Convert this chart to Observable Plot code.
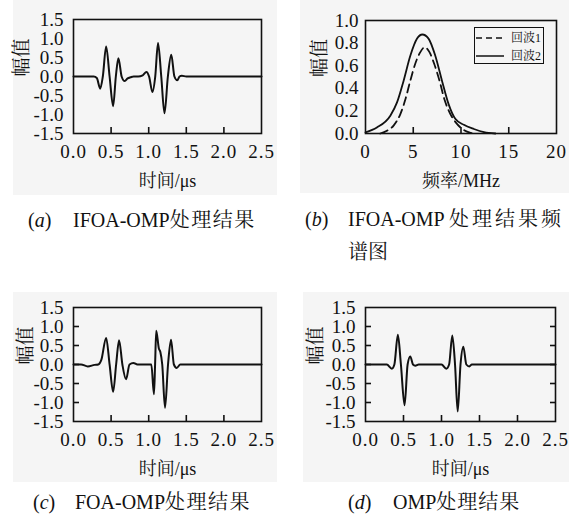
<!DOCTYPE html>
<html><head><meta charset="utf-8">
<script src="https://cdn.jsdelivr.net/npm/d3@7"></script>
<script src="https://cdn.jsdelivr.net/npm/@observablehq/plot@0.6"></script>
<style>
html,body{margin:0;padding:0;background:#fff;}
#root{position:relative;width:569px;height:518px;overflow:hidden;font-family:'Liberation Serif','Noto Serif CJK SC','Noto Sans CJK SC',serif;color:#111;}
#root svg text{font-family:'Liberation Serif','Noto Serif CJK SC','Noto Sans CJK SC',serif !important;}
.bg{position:absolute;background:#f5f5f5;}
.panel{position:absolute;}
.cap{position:absolute;font-size:20px;white-space:nowrap;line-height:20px;}
.legend{position:absolute;border:1.5px solid #111;box-sizing:border-box;font-size:12px;}
.legend .row{position:absolute;left:0;height:14px;line-height:14px;white-space:nowrap;}
</style></head><body><div id="root"></div>
<script>
// ---------- data ----------
const timeTicks = [0, 0.5, 1.0, 1.5, 2.0, 2.5];
const ampTicks = [-1.5, -1.0, -0.5, 0, 0.5, 1.0, 1.5];
const freqTicks = [0, 5, 10, 15, 20];
const specTicks = [0, 0.2, 0.4, 0.6, 0.8, 1.0];

// (a) IFOA-OMP
const ifoaTime = [0, 0.27, 0.31, 0.355, 0.39, 0.434, 0.48, 0.527, 0.563, 0.597, 0.64, 0.681, 0.72, 0.76, 0.80, 0.86, 0.92, 0.97, 1.005, 1.05, 1.087, 1.124, 1.167, 1.21, 1.255, 1.30, 1.342, 1.38, 1.41, 1.44, 1.5, 2.5];
const ifoaAmp  = [0, 0, -0.04, -0.32, 0, 0.79, 0, -0.78, 0, 0.48, 0, -0.12, -0.05, -0.02, 0, 0, 0.03, 0.12, 0, -0.41, 0, 0.88, 0, -0.97, 0, 0.57, 0, -0.1, 0, 0.02, 0, 0];

// (c) FOA-OMP
const foaTime = [0, 0.1, 0.19, 0.28, 0.33, 0.37, 0.434, 0.48, 0.527, 0.567, 0.606, 0.65, 0.699, 0.745, 0.796, 0.85, 1.035, 1.07, 1.085, 1.10, 1.135, 1.155, 1.18, 1.217, 1.257, 1.297, 1.335, 1.372, 1.42, 2.5];
const foaAmp  = [0, 0, -0.05, -0.01, 0, 0.12, 0.70, 0, -0.72, 0, 0.64, 0, -0.39, 0, 0.04, 0, 0, -0.78, 0, 0.89, 0.42, 0.33, 0, -1.14, 0, 0.65, 0, -0.09, 0, 0];

// (d) OMP
const ompTime = [0, 0.28, 0.347, 0.38, 0.426, 0.466, 0.514, 0.554, 0.589, 0.625, 0.655, 0.70, 1.0, 1.063, 1.10, 1.142, 1.178, 1.213, 1.25, 1.287, 1.327, 1.366, 1.40, 2.5];
const ompAmp  = [0, 0, -0.11, 0, 0.78, 0, -1.07, 0, 0.21, 0, -0.03, 0, 0, -0.11, 0, 0.76, 0, -1.24, 0, 0.47, 0, -0.05, 0, 0];

// (b) spectra
const seriesNames = ["回波1", "回波2"];
const echo1Freq = [1.54, 2.24, 2.94, 3.64, 4.17, 4.7, 5.2, 5.74, 6.2, 6.7, 7.2, 7.74, 8.27, 8.9, 9.6, 10.3, 11.0, 11.5];
const echo1Amp  = [0, 0.024, 0.07, 0.17, 0.30, 0.47, 0.615, 0.72, 0.763, 0.72, 0.615, 0.47, 0.30, 0.17, 0.083, 0.03, 0.006, 0];
const echo2Freq = [0, 1.19, 2.6, 3.3, 4.0, 4.7, 5.4, 5.95, 6.6, 7.3, 8.0, 8.7, 9.4, 10.3, 11.35, 12.4, 13.6];
const echo2Amp  = [0.01, 0.053, 0.157, 0.275, 0.47, 0.69, 0.84, 0.876, 0.84, 0.69, 0.47, 0.26, 0.13, 0.077, 0.04, 0.012, 0];

const timeLabel = "时间/μs";
const freqLabel = "频率/MHz";
const ampLabel = "幅值";

// ---------- drawing ----------
const FONT = "'Liberation Serif','Noto Serif CJK SC','Noto Sans CJK SC',serif";
const INK = "#111";
const fmt1 = d => d.toFixed(1);
const fmt0 = d => String(d);
const rows = (xs, ys) => xs.map((x, i) => ({x, y: ys[i]}));
const root = document.getElementById("root");

function addDiv(cls, css, html) {
  const d = document.createElement("div");
  d.className = cls;
  Object.assign(d.style, css);
  if (html != null) d.innerHTML = html;
  root.appendChild(d);
  return d;
}

function panel({left, top, width, height, mL, mR, mT, mB, xDomain, yDomain, xTicks, yTicks, xFmt, yFmt, xLabel, yLabel, yPad, yLabelDx, inLeft, inRight, lines}) {
  const marks = [
    ...lines,
    Plot.frame({stroke: INK, strokeWidth: 1.6}),
    Plot.axisX(xTicks, {tickSize: 0, tickPadding: 11, tickFormat: xFmt, label: null}),
    Plot.axisX(xTicks.slice(1, -1), {tickSize: 6, dy: -6, tickFormat: () => "", label: null, strokeWidth: 1.6}),
    Plot.axisY(yTicks, {tickSize: 0, tickPadding: yPad, tickFormat: yFmt, label: null}),
    Plot.text([xLabel], {text: d => d, frameAnchor: "bottom", dy: 48, lineAnchor: "middle", fontSize: 18}),
    Plot.text([yLabel], {text: d => d, frameAnchor: "left", dx: yLabelDx, rotate: -90, lineAnchor: "middle", fontSize: 19})
  ];
  if (inLeft) marks.push(Plot.axisY(yTicks.slice(1, -1), {anchor: "left", tickSize: 6, dx: 6, tickFormat: () => "", label: null, strokeWidth: 1.6}));
  if (inRight) marks.push(Plot.axisY(yTicks.slice(1, -1), {anchor: "right", tickSize: 6, dx: -6, tickFormat: () => "", label: null, strokeWidth: 1.6}));
  const svg = Plot.plot({
    width, height, marginLeft: mL, marginRight: mR, marginTop: mT, marginBottom: mB,
    style: {background: "transparent", fontFamily: FONT, fontSize: "19px", color: INK, overflow: "visible"},
    x: {domain: xDomain},
    y: {domain: yDomain},
    marks
  });
  svg.setAttribute("font-family", FONT);
  svg.querySelectorAll("text").forEach(t => t.setAttribute("font-family", FONT));
  svg.querySelectorAll('g[aria-label="x-axis tick label"] text').forEach(t => t.setAttribute("letter-spacing", "1"));
  const wrap = addDiv("panel", {left: left + "px", top: top + "px", width: width + "px", height: height + "px"});
  wrap.appendChild(svg);
  return svg;
}

// grey backgrounds
addDiv("bg", {left: "13px", top: "0px", width: "264px", height: "195px"});
addDiv("bg", {left: "300px", top: "0px", width: "269px", height: "193px"});
addDiv("bg", {left: "13px", top: "292px", width: "264px", height: "190px"});
addDiv("bg", {left: "303px", top: "292px", width: "266px", height: "190px"});

const waveLine = (t, a) => Plot.line(rows(t, a), {x: "x", y: "y", stroke: INK, strokeWidth: 2, curve: "monotone-x"});

// (a)
panel({left: 0, top: 0, width: 285, height: 200, mL: 73, mR: 24, mT: 19, mB: 67,
  xDomain: [0, 2.5], yDomain: [-1.5, 1.5], xTicks: timeTicks, yTicks: ampTicks, xFmt: fmt1, yFmt: fmt1,
  xLabel: timeLabel, yLabel: ampLabel, yPad: 10, yLabelDx: -52, inLeft: false, inRight: false,
  lines: [waveLine(ifoaTime, ifoaAmp)]});

// (b)
panel({left: 290, top: 0, width: 279, height: 200, mL: 75, mR: 13, mT: 20, mB: 67,
  xDomain: [0, 20], yDomain: [0, 1], xTicks: freqTicks, yTicks: specTicks, xFmt: fmt0, yFmt: fmt1,
  xLabel: freqLabel, yLabel: ampLabel, yPad: 7, yLabelDx: -46, inLeft: false, inRight: false,
  lines: [
    Plot.line(rows(echo1Freq, echo1Amp), {x: "x", y: "y", stroke: INK, strokeWidth: 1.8, strokeDasharray: "8,5", curve: "monotone-x"}),
    Plot.line(rows(echo2Freq, echo2Amp), {x: "x", y: "y", stroke: INK, strokeWidth: 1.8, curve: "monotone-x"})
  ]});

// (c)
panel({left: 0, top: 288, width: 285, height: 200, mL: 73, mR: 24, mT: 19, mB: 67,
  xDomain: [0, 2.5], yDomain: [-1.5, 1.5], xTicks: timeTicks, yTicks: ampTicks, xFmt: fmt1, yFmt: fmt1,
  xLabel: timeLabel, yLabel: ampLabel, yPad: 10, yLabelDx: -48, inLeft: true, inRight: false,
  lines: [waveLine(foaTime, foaAmp)]});

// (d)
panel({left: 290, top: 288, width: 279, height: 200, mL: 75, mR: 14, mT: 19, mB: 67,
  xDomain: [0, 2.5], yDomain: [-1.5, 1.5], xTicks: timeTicks, yTicks: ampTicks, xFmt: fmt1, yFmt: fmt1,
  xLabel: timeLabel, yLabel: ampLabel, yPad: 10, yLabelDx: -50, inLeft: true, inRight: true,
  lines: [waveLine(ompTime, ompAmp)]});

// legend for (b)
const leg = addDiv("legend", {left: "474px", top: "27px", width: "70px", height: "37px"});
const dashes = ["6,4", null];
seriesNames.forEach((name, i) => {
  const r = document.createElement("div");
  r.className = "row";
  r.style.top = (3 + i * 18) + "px";
  r.innerHTML = `<svg width="30" height="14" style="vertical-align:top"><line x1="1" x2="29" y1="7" y2="7" stroke="${INK}" stroke-width="1.5" ${dashes[i] ? `stroke-dasharray="${dashes[i]}"` : ""}/></svg><span style="margin-left:6px">${name}</span>`;
  leg.appendChild(r);
});

// captions
addDiv("cap", {left: "28px", top: "210px"}, "(<i>a</i>)");
addDiv("cap", {left: "73px", top: "210px"}, 'IFOA-OMP<span style="letter-spacing:1.5px">处理结果</span>');
addDiv("cap", {left: "305px", top: "209px"}, "(<i>b</i>)");
addDiv("cap", {left: "348px", top: "209px", lineHeight: "33px", marginTop: "-6px"}, 'IFOA-OMP <span style="letter-spacing:3px">处理结果频</span><br>谱图');
addDiv("cap", {left: "33px", top: "492px"}, "(<i>c</i>)");
addDiv("cap", {left: "75px", top: "492px"}, 'FOA-OMP<span style="letter-spacing:1.5px">处理结果</span>');
addDiv("cap", {left: "348px", top: "492px"}, "(<i>d</i>)");
addDiv("cap", {left: "393px", top: "492px"}, 'OMP<span style="letter-spacing:1px">处理结果</span>');
</script></body></html>
